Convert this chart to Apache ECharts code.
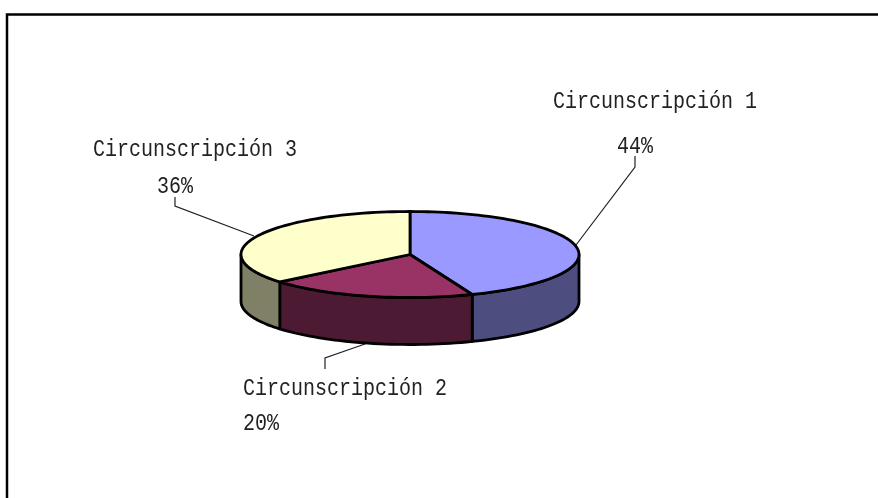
<!DOCTYPE html>
<html>
<head>
<meta charset="utf-8">
<style>html,body{margin:0;padding:0;background:#fff}#c{width:878px;height:498px}</style>
<script src="https://cdn.jsdelivr.net/npm/echarts@6/dist/echarts.min.js"></script>
</head>
<body>
<div id="c"></div>
<script>
const categories = ['Circunscripción 1', 'Circunscripción 2', 'Circunscripción 3'];
const shares = [44, 20, 36];

const topColors = ['#9999FF', '#993366', '#FFFFCC'];
const sideColors = ['#4D4D80', '#4D1A33', '#808066'];
const disc = { cx: 410, cy: 254.5, rx: 169, ry: 43, depth: 47 };
const fontCss = '24px "Liberation Mono"';
const labelScaleX = 0.833;
const nameAnchors = [[553, 102], [243, 389], [93, 150]];
const percentAnchors = [[617, 147], [243, 424], [157, 187]];
const leaders = [
  [[635, 156], [635, 167], [576, 245]],
  [[325, 369], [325, 358], [365, 344]],
  [[175, 197], [175, 206], [254, 236]]
];

const total = shares.reduce((a, b) => a + b, 0);
const rad = d => d * Math.PI / 180;
const pt = (deg, dy) => [
  disc.cx + disc.rx * Math.sin(rad(deg)),
  disc.cy - disc.ry * Math.cos(rad(deg)) + (dy || 0)
];
const arc = (a, b, dy) => {
  const out = [];
  const n = Math.max(2, Math.ceil(Math.abs(b - a) / 2));
  for (let i = 0; i <= n; i++) out.push(pt(a + (b - a) * i / n, dy));
  return out;
};

function renderItem(params, api) {
  const i = params.dataIndex;
  let before = 0;
  for (let k = 0; k < i; k++) before += shares[k];
  const value = api.value(0);
  const start = before / total * 360;
  const end = (before + value) / total * 360;
  const children = [];
  const edge = { stroke: '#000', lineWidth: 2.8, lineJoin: 'round' };

  const sideA = Math.max(start, 90), sideB = Math.min(end, 270);
  if (sideB > sideA) {
    const pts = arc(sideA, sideB, 0).concat(arc(sideB, sideA, disc.depth));
    children.push({
      type: 'polygon', z2: 1,
      shape: { points: pts },
      style: Object.assign({ fill: sideColors[i] }, edge)
    });
  }
  children.push({
    type: 'polygon', z2: 2,
    shape: { points: [[disc.cx, disc.cy]].concat(arc(start, end, 0)) },
    style: Object.assign({ fill: topColors[i] }, edge)
  });
  children.push({
    type: 'polyline', z2: 0,
    shape: { points: leaders[i] },
    style: { stroke: '#222', lineWidth: 1.2, fill: null }
  });
  children.push({
    type: 'text', x: nameAnchors[i][0], y: nameAnchors[i][1], scaleX: labelScaleX,
    style: { text: categories[i], font: fontCss, fill: '#222', verticalAlign: 'middle', align: 'left' }
  });
  children.push({
    type: 'text', x: percentAnchors[i][0], y: percentAnchors[i][1], scaleX: labelScaleX,
    style: { text: value + '%', font: fontCss, fill: '#222', verticalAlign: 'middle', align: 'left' }
  });
  return { type: 'group', children };
}

const chart = echarts.init(document.getElementById('c'), null, { renderer: 'canvas' });
chart.setOption({
  animation: false,
  backgroundColor: '#fff',
  graphic: [{
    type: 'polyline', silent: true,
    shape: { points: [[7, 498], [7, 14.5], [878, 14.5]] },
    style: { stroke: '#000', lineWidth: 2.5, fill: null }
  }],
  series: [{
    type: 'custom',
    coordinateSystem: 'none',
    silent: true,
    renderItem,
    data: shares.map((v, i) => ({ name: categories[i], value: [v] }))
  }]
});
</script>
</body>
</html>
